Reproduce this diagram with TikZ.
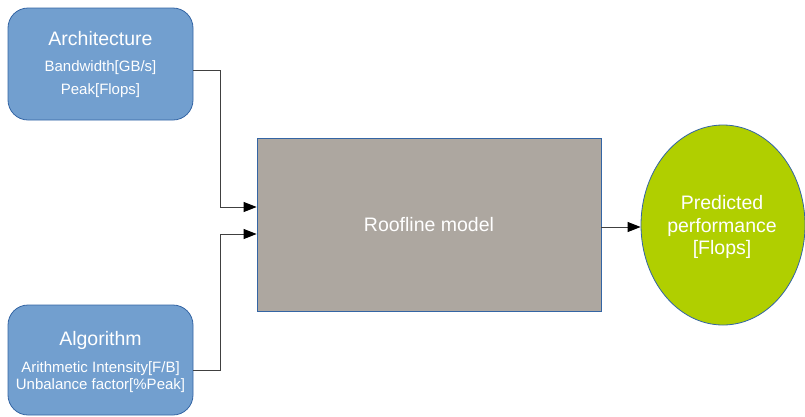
\documentclass[tikz,border=0pt]{standalone}
\usepackage{fontspec}
\setmainfont{Liberation Sans}
\usetikzlibrary{arrows.meta,shapes.geometric}
\definecolor{boxblue}{HTML}{729FCF}
\definecolor{boxedge}{HTML}{3465A4}
\definecolor{roofgray}{HTML}{ADA7A0}
\definecolor{predgreen}{HTML}{B0CF00}
\definecolor{linegray}{HTML}{404040}
\tikzset{
  inbox/.style={draw=boxedge, fill=boxblue, rounded corners=20pt, minimum width=185pt, minimum height=112pt, inner sep=0pt, line width=0.8pt},
  roofbox/.style={draw=boxedge, fill=roofgray, minimum width=344pt, minimum height=173pt, inner sep=0pt, line width=0.8pt},
  predell/.style={draw=boxedge, fill=predgreen, ellipse, minimum width=164pt, minimum height=200pt, inner sep=0pt, line width=0.8pt},
  bigtxt/.style={text=white, font=\fontsize{19.5}{22.5}\selectfont, inner sep=0pt},
  smalltxt/.style={text=white, font=\fontsize{15}{17}\selectfont, inner sep=0pt},
  conn/.style={draw=linegray, line width=1pt},
  arr/.style={conn, -{Triangle[length=13pt,width=10pt,fill=black,color=black]}},
}
\begin{document}
\begin{tikzpicture}[x=1pt,y=-1pt]
\useasboundingbox (0,0) rectangle (805,416);
\node[inbox] (arch) at (100.5,64) {};
\node[inbox, minimum height=110pt] (algo) at (100.5,360) {};
\node[roofbox] (roof) at (429,224.5) {};
\node[predell] (pred) at (723,225) {};

\node[bigtxt] (archt) at (100.5,39) {Architecture};
\node[smalltxt] (archb) at (100.5,68) {Bandwidth[GB/s]};
\node[smalltxt] (archp) at (100.5,91) {Peak[Flops]};

\node[bigtxt] (algot) at (100.5,340) {Algorithm};
\node[smalltxt] (algoa) at (100.5,369) {Arithmetic Intensity[F/B]};
\node[smalltxt] (algou) at (100.5,386) {Unbalance factor[\%Peak]};

\node[bigtxt] (rooft) at (roof.center) {Roofline model};
\node[bigtxt, align=center] (predt) at (722,227) {Predicted\\performance\\{}[Flops]};

\draw[arr] (arch.east |- 0,70) -- (220,70) |- (roof.west |- 0,207);
\draw[arr] (algo.east |- 0,370) -- (220,370) |- (roof.west |- 0,234);
\draw[arr] (roof.east |- 0,227) -- (pred.west |- 0,227);
\end{tikzpicture}
\end{document}
